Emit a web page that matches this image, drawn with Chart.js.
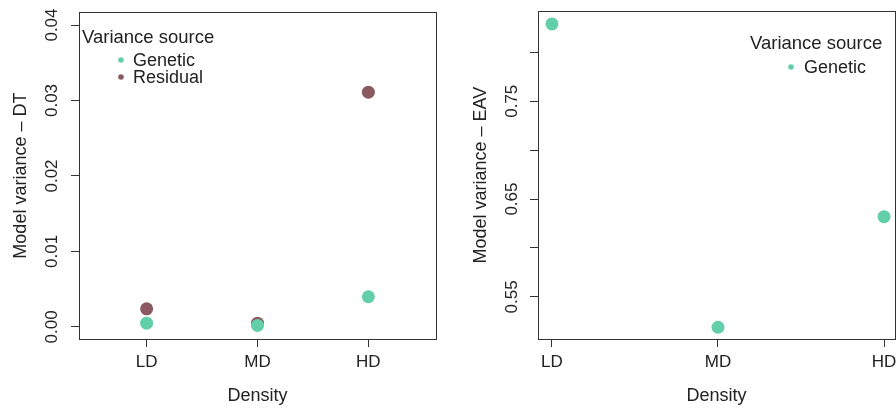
<!DOCTYPE html>
<html>
<head>
<meta charset="utf-8">
<script src="https://cdn.jsdelivr.net/npm/chart.js@4"></script>
<style>
  html, body { margin: 0; padding: 0; background: #fff; }
  #wrap { position: relative; width: 896px; height: 409px; overflow: hidden; }
  #dtChart { position: absolute; left: 0; top: 0; }
  #eavChart { position: absolute; left: 450px; top: 0; }
</style>
</head>
<body>
<div id="wrap">
  <canvas id="dtChart" width="450" height="409"></canvas>
  <canvas id="eavChart" width="470" height="409"></canvas>
</div>
<script>
// categories
const densities = ['LD', 'MD', 'HD'];

// left panel: DT
const dtGenetic = [0.0005, 0.0002, 0.0040];
const dtResidual = [0.0024, 0.0005, 0.0311];
const dtTicks = [0, 0.01, 0.02, 0.03, 0.04];
const dtTickLabels = ['0.00', '0.01', '0.02', '0.03', '0.04'];

// right panel: EAV
const eavGenetic = [0.829, 0.519, 0.632];
const eavTicks = [0.55, 0.60, 0.65, 0.70, 0.75, 0.80];
const eavTickLabels = ['0.55', '', '0.65', '', '0.75', ''];

const GREEN = '#62cfa9';
const BROWN = '#8a5a60';
const INK = '#222';
const FONT = "'Liberation Sans', Arial, sans-serif";

function toPoints(values) {
  return values.map((v, i) => ({ x: i + 1, y: v }));
}

// box around plot area + legend in top corner
const boxAndLegend = {
  id: 'boxAndLegend',
  afterDraw(chart, args, opts) {
    const ctx = chart.ctx;
    const a = chart.chartArea;
    ctx.save();
    ctx.strokeStyle = '#333';
    ctx.lineWidth = 1;
    ctx.strokeRect(Math.round(a.left) + 0.5, Math.round(a.top) + 0.5,
      Math.round(a.right - a.left), Math.round(a.bottom - a.top));

    const lg = opts.legend;
    ctx.fillStyle = INK;
    ctx.textBaseline = 'middle';
    ctx.textAlign = 'left';
    ctx.font = '18.5px ' + FONT;
    ctx.fillText(lg.title, lg.titleX, lg.titleY);
    ctx.font = '18px ' + FONT;
    lg.items.forEach((item, i) => {
      const y = lg.itemY + i * lg.itemGap;
      ctx.beginPath();
      ctx.fillStyle = item.color;
      ctx.arc(lg.dotX, y, 2.8, 0, Math.PI * 2);
      ctx.fill();
      ctx.fillStyle = INK;
      ctx.fillText(item.text, lg.textX, y + 1);
    });
    ctx.restore();
  }
};

function makeOptions(cfg) {
  return {
    responsive: false,
    animation: false,
    layout: { padding: { top: 10, right: cfg.padRight, bottom: 0, left: 0 } },
    plugins: {
      legend: { display: false },
      tooltip: { enabled: false },
      boxAndLegend: { legend: cfg.legend }
    },
    scales: {
      x: {
        type: 'linear',
        min: cfg.xMin,
        max: cfg.xMax,
        afterBuildTicks: s => { s.ticks = densities.map((d, i) => ({ value: i + 1 })); },
        afterFit: s => { s.height = 70; },
        ticks: {
          callback: (v, i) => densities[i],
          color: INK,
          font: { family: FONT, size: 17 },
          padding: 5,
          maxRotation: 0
        },
        grid: { drawOnChartArea: false, drawTicks: true, tickLength: 8, color: '#333' },
        border: { display: true, color: '#333' },
        title: {
          display: true,
          text: 'Density',
          color: INK,
          font: { family: FONT, size: 18 },
          padding: { top: 0, bottom: 2 }
        }
      },
      y: {
        type: 'linear',
        min: cfg.yMin,
        max: cfg.yMax,
        afterBuildTicks: s => { s.ticks = cfg.yTicks.map(v => ({ value: v })); },
        afterFit: s => { s.width = cfg.yWidth; },
        ticks: {
          callback: (v, i) => cfg.yTickLabels[i],
          color: INK,
          font: { family: FONT, size: 17 },
          minRotation: 90,
          maxRotation: 90,
          crossAlign: 'center',
          padding: cfg.tickPad
        },
        grid: { drawOnChartArea: false, drawTicks: true, tickLength: 8, color: '#333' },
        border: { display: true, color: '#333' },
        title: {
          display: true,
          text: cfg.yTitle,
          color: INK,
          font: { family: FONT, size: 18 },
          padding: { top: cfg.titlePad, bottom: 0 }
        }
      }
    }
  };
}

new Chart(document.getElementById('dtChart'), {
  type: 'scatter',
  data: {
    datasets: [
      { label: 'Genetic', data: toPoints(dtGenetic), backgroundColor: GREEN, borderWidth: 0, pointRadius: 6.5 },
      { label: 'Residual', data: toPoints(dtResidual), backgroundColor: BROWN, borderWidth: 0, pointRadius: 6.5 }
    ]
  },
  options: makeOptions({
    padRight: 14,
    xMin: 0.39, xMax: 3.61,
    yMin: -0.0016, yMax: 0.0417,
    yTicks: dtTicks, yTickLabels: dtTickLabels,
    yWidth: 79, tickPad: 2, titlePad: 10,
    yTitle: 'Model variance \u2013 DT',
    legend: {
      title: 'Variance source', titleX: 82, titleY: 38,
      dotX: 121, textX: 133, itemY: 60, itemGap: 17,
      items: [{ text: 'Genetic', color: GREEN }, { text: 'Residual', color: BROWN }]
    }
  }),
  plugins: [boxAndLegend]
});

// right canvas runs past the page edge; the frame is cut like in the source
new Chart(document.getElementById('eavChart'), {
  type: 'scatter',
  data: {
    datasets: [
      { label: 'Genetic', data: toPoints(eavGenetic), backgroundColor: GREEN, borderWidth: 0, pointRadius: 6.5 }
    ]
  },
  options: makeOptions({
    padRight: 25,
    xMin: 0.916, xMax: 3.066,
    yMin: 0.507, yMax: 0.842,
    yTicks: eavTicks, yTickLabels: eavTickLabels,
    yWidth: 88, tickPad: 1, titlePad: 20,
    yTitle: 'Model variance \u2013 EAV',
    legend: {
      title: 'Variance source', titleX: 300, titleY: 44,
      dotX: 341, textX: 354, itemY: 67, itemGap: 17,
      items: [{ text: 'Genetic', color: GREEN }]
    }
  }),
  plugins: [boxAndLegend]
});
</script>
</body>
</html>
